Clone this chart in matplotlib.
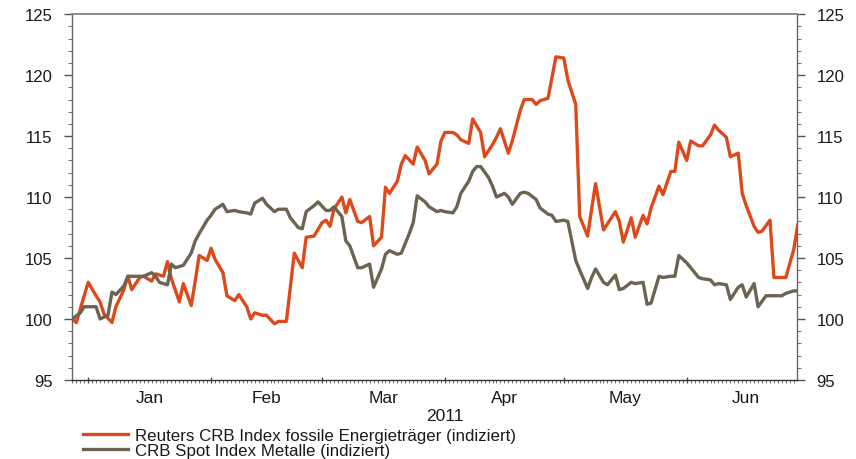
import matplotlib
matplotlib.use("Agg")
import matplotlib.pyplot as plt
import matplotlib.dates as mdates
import pandas as pd

plt.rcParams['font.family'] = ['Liberation Sans', 'DejaVu Sans']

START = "2010-12-28"
# days since 2010-12-28 / index values
energy_day = [0, 1, 4, 6, 7, 8, 10, 11, 13, 14, 15, 17, 18, 20, 21, 23, 24, 25, 27, 28,
              30, 31, 32, 34, 35, 36, 38, 39, 41, 42, 44, 45, 46, 48, 49, 51, 52, 54, 56, 58,
              59, 61, 63, 64, 65, 66, 68, 69, 70, 72, 73, 75, 76, 78, 79, 80, 82, 83, 84, 86,
              87, 89, 90, 92, 93, 94, 96, 97, 98, 100, 101, 103, 104, 106, 107, 108, 110, 111, 113, 114,
              116, 117, 118, 120, 121, 122, 124, 125, 127, 128, 130, 131, 132, 134, 135, 137, 138, 139, 141, 142,
              144, 145, 146, 148, 149, 151, 152, 153, 155, 156, 158, 159, 161, 162, 163, 165, 166, 168, 169, 170,
              172, 173, 174, 176, 177, 179, 180, 182, 183]
energy_val = [100.0, 99.7, 103.0, 101.9, 101.4, 100.4, 99.7, 101.0, 102.4, 103.5, 102.4, 103.4, 103.5, 103.1, 103.7, 103.5, 104.7, 103.3, 101.4, 102.9,
              101.1, 103.1, 105.2, 104.8, 105.8, 104.9, 103.8, 101.9, 101.5, 102.0, 101.0, 100.0, 100.5, 100.3, 100.3, 99.6, 99.8, 99.8, 105.4, 104.2,
              106.7, 106.8, 107.9, 108.1, 107.6, 109.0, 110.0, 108.7, 109.8, 108.0, 107.9, 108.4, 106.0, 106.7, 110.8, 110.3, 111.3, 112.7, 113.4, 112.7,
              114.1, 113.0, 111.9, 112.7, 114.6, 115.3, 115.3, 115.1, 114.7, 114.4, 116.4, 115.3, 113.3, 114.3, 114.9, 115.6, 113.6, 114.6, 117.1, 118.0,
              118.0, 117.6, 117.9, 118.1, 119.8, 121.5, 121.4, 119.6, 117.6, 108.4, 106.8, 109.0, 111.1, 107.3, 107.8, 108.8, 108.0, 106.3, 108.3, 106.7,
              108.5, 107.8, 109.1, 110.9, 110.2, 112.1, 112.1, 114.5, 113.0, 114.6, 114.2, 114.2, 115.1, 115.9, 115.5, 114.9, 113.3, 113.6, 110.3, 109.3,
              107.6, 107.1, 107.2, 108.1, 103.4, 103.4, 103.4, 105.7, 107.7]

metals_day = [0, 2, 3, 4, 6, 7, 9, 10, 11, 13, 14, 15, 17, 18, 20, 21, 22, 24, 25, 26,
              28, 30, 31, 32, 34, 35, 36, 38, 39, 41, 42, 44, 45, 46, 48, 49, 51, 52, 54, 55,
              57, 58, 59, 61, 62, 64, 65, 66, 68, 69, 70, 72, 73, 75, 76, 78, 79, 80, 82, 83,
              85, 86, 87, 89, 90, 92, 93, 94, 96, 97, 98, 100, 101, 102, 103, 105, 106, 107, 109, 110,
              111, 113, 114, 115, 117, 118, 120, 121, 122, 124, 125, 127, 128, 130, 131, 132, 134, 135, 137, 138,
              139, 141, 142, 144, 145, 146, 148, 149, 151, 152, 153, 155, 156, 158, 159, 161, 162, 163, 165, 166,
              168, 169, 170, 172, 173, 175, 176, 177, 179, 180, 182, 183]
metals_val = [100.0, 100.5, 101.0, 101.0, 101.0, 100.0, 100.3, 102.2, 102.0, 102.7, 103.5, 103.5, 103.5, 103.5, 103.8, 103.5, 103.0, 102.8, 104.5, 104.2,
              104.4, 105.4, 106.4, 107.0, 108.1, 108.5, 109.0, 109.4, 108.8, 108.9, 108.8, 108.7, 108.6, 109.5, 109.9, 109.4, 108.8, 109.0, 109.0, 108.3,
              107.5, 107.4, 108.8, 109.3, 109.6, 108.9, 108.9, 109.2, 108.4, 106.4, 106.0, 104.2, 104.2, 104.5, 102.6, 104.1, 105.3, 105.6, 105.3, 105.4,
              107.0, 107.9, 110.1, 109.6, 109.2, 108.8, 108.9, 108.8, 108.7, 109.2, 110.3, 111.3, 112.1, 112.5, 112.5, 111.6, 110.9, 110.0, 110.3, 110.0,
              109.4, 110.3, 110.4, 110.3, 109.8, 109.1, 108.6, 108.5, 108.0, 108.1, 108.0, 104.8, 104.0, 102.5, 103.4, 104.1, 103.0, 102.8, 103.6, 102.4,
              102.5, 103.0, 102.9, 103.0, 101.2, 101.3, 103.5, 103.4, 103.5, 103.5, 105.2, 104.6, 104.2, 103.4, 103.3, 103.2, 102.8, 102.9, 102.8, 101.6,
              102.6, 102.8, 101.8, 102.9, 101.0, 101.9, 101.9, 101.9, 101.9, 102.1, 102.3, 102.3]

labels = ["Reuters CRB Index fossile Energieträger (indiziert)",
          "CRB Spot Index Metalle (indiziert)"]
month_names = ["Jan", "Feb", "Mar", "Apr", "May", "Jun"]
year_label = "2011"
y_ticks = [95, 100, 105, 110, 115, 120, 125]

start = pd.Timestamp(START)
e_dates = start + pd.to_timedelta(energy_day, unit="D")
m_dates = start + pd.to_timedelta(metals_day, unit="D")

fig = plt.figure(figsize=(8.56, 4.6), dpi=100)
ax = fig.add_axes([0.0841, 0.172, 0.8469, 0.795])

c_or = "#DC4A1C"
c_gr = "#6C6450"
l1, = ax.plot(e_dates, energy_val, color=c_or, lw=2.4, solid_joinstyle="round")
l2, = ax.plot(m_dates, metals_val, color=c_gr, lw=2.4, solid_joinstyle="round")

TXT = "#1a1a1a"
ax.set_ylim(95, 125)
ax.set_xlim(start - pd.Timedelta(hours=2), start + pd.Timedelta(days=182.8))
ax.set_yticks(y_ticks)
ax.yaxis.set_minor_locator(matplotlib.ticker.MultipleLocator(1))
ax.tick_params(axis="y", which="major", length=6, width=1, color="#555555",
               labelsize=12, labelcolor=TXT, left=True, right=True,
               labelleft=True, labelright=True, pad=8)
ax.tick_params(axis="y", which="minor", length=3, width=0.8, color="#777777", left=True, right=True)

ax.xaxis.set_major_locator(mdates.MonthLocator())
ax.xaxis.set_minor_locator(mdates.DayLocator())
ax.xaxis.set_major_formatter(matplotlib.ticker.NullFormatter())
ax.tick_params(axis="x", which="major", length=4, width=0.9, color="#444444", direction="inout")
ax.tick_params(axis="x", which="minor", length=2.2, width=0.6, color="#555555", direction="out")

for s in ["left", "right"]:
    ax.spines[s].set_color("#666666")
    ax.spines[s].set_linewidth(1.0)
ax.spines["top"].set_color("#8a8a8a")
ax.spines["top"].set_linewidth(1.4)
ax.spines["bottom"].set_color("#333333")
ax.spines["bottom"].set_linewidth(1.0)

trans = matplotlib.transforms.blended_transform_factory(ax.transData, ax.transAxes)
for i, name in enumerate(month_names):
    m0 = pd.Timestamp(2011, i + 1, 1)
    m1 = m0 + pd.offsets.MonthBegin(1)
    ax.text(m0 + (m1 - m0) / 2, -0.047, name, transform=trans,
            ha="center", va="center", fontsize=12.5, color=TXT)
ax.text(pd.Timestamp(2011, 4, 1), -0.097, year_label, transform=trans,
        ha="center", va="center", fontsize=12.5, color=TXT)

leg = fig.legend([l1, l2], labels, loc="upper left",
                 bbox_to_anchor=(0.097, 0.068), bbox_transform=fig.transFigure,
                 frameon=False, fontsize=12.2, handlelength=2.65, handletextpad=0.42,
                 labelspacing=0.0, borderpad=0, borderaxespad=0)
for t in leg.get_texts():
    t.set_color(TXT)
for h in leg.legend_handles:
    h.set_linewidth(2.4)

fig.savefig("out.png", dpi=100)
